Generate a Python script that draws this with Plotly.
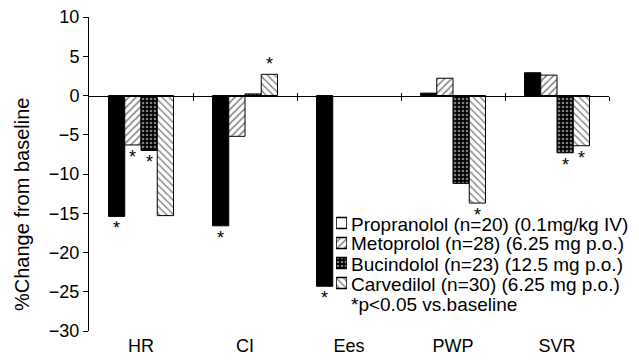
import plotly.graph_objects as go

categories = ["HR", "CI", "Ees", "PWP", "SVR"]
drugs = ["Propranolol (n=20) (0.1mg/kg IV)",
         "Metoprolol (n=28) (6.25 mg p.o.)",
         "Bucindolol (n=23) (12.5 mg p.o.)",
         "Carvedilol (n=30) (6.25 mg p.o.)"]
note = "*p<0.05 vs.baseline"
propranolol = [-15.4, -16.6, -24.3, 0.3, 2.9]
metoprolol = [-6.3, -5.2, None, 2.2, 2.6]
bucindolol = [-7.0, 0.2, None, -11.2, -7.3]
carvedilol = [-15.3, 2.7, None, -13.7, -6.4]
sig_propranolol = [True, True, True, False, False]
sig_metoprolol = [True, False, False, False, False]
sig_bucindolol = [True, False, False, False, True]
sig_carvedilol = [False, True, False, True, True]
y_ticks = [10, 5, 0, -5, -10, -15, -20, -25, -30]
tick_text = ["10", "5", "0", "\u22125", "\u221210", "\u221215", "\u221220", "\u221225", "\u221230"]

series = [propranolol, metoprolol, bucindolol, carvedilol]
sigs = [sig_propranolol, sig_metoprolol, sig_bucindolol, sig_carvedilol]

FONT = "Liberation Sans, Arial, sans-serif"
W, H = 639, 360
ML, MR, MT, MB = 89, 30, 17, 29
PW, PH = W - ML - MR, H - MT - MB
bargap = 0.375
bar_w = (1 - bargap) / 4


def px_x(px):
    return (px - ML) / PW


def px_y(py):
    return (H - MB - py) / PH


patterns = [
    None,
    dict(shape="/", fgcolor="black", bgcolor="white", size=5, solidity=0.3),
    dict(shape=".", fgcolor="white", bgcolor="black", size=4, solidity=0.35),
    dict(shape="\\", fgcolor="black", bgcolor="white", size=5, solidity=0.28),
]
colors = ["black", "white", "black", "white"]

xs = list(range(len(categories)))
fig = go.Figure()
for i, (vals, pat) in enumerate(zip(series, patterns)):
    marker = dict(color=colors[i], line=dict(color="black", width=1))
    if pat:
        marker["pattern"] = pat
    fig.add_trace(go.Bar(x=xs, y=vals, name=drugs[i], showlegend=False, marker=marker))

# custom legend: symbol squares drawn as bars on a small hidden axis
row0, row_step, sym = 224, 20, 11
sym_x0 = 336
text_x = 349
for i in range(4):
    c = row0 + row_step * i
    sc = c - 1
    marker = dict(color="white" if i == 0 else colors[i],
                  line=dict(color="black", width=1.5))
    if patterns[i]:
        marker["pattern"] = patterns[i]
    fig.add_trace(go.Bar(
        x=[0], y=[sym], base=[sc - sym / 2], width=[1], offsetgroup="leg",
        xaxis="x3", yaxis="y3", showlegend=False, hoverinfo="skip",
        marker=marker,
    ))
    fig.add_annotation(x=px_x(text_x), y=px_y(c), xref="paper", yref="paper",
                       text=drugs[i], showarrow=False, xanchor="left",
                       yanchor="middle",
                       font=dict(size=19, color="black", family=FONT))
fig.add_annotation(x=px_x(text_x), y=px_y(row0 + row_step * 4), xref="paper", yref="paper",
                   text=note, showarrow=False, xanchor="left", yanchor="middle",
                   font=dict(size=19, color="black", family=FONT))

# significance asterisks
for i, (vals, sg) in enumerate(zip(series, sigs)):
    off = (-1.5 + i) * bar_w
    for j, v in enumerate(vals):
        if v is not None and sg[j]:
            fig.add_annotation(
                x=xs[j] + off, y=v, text="*", showarrow=False,
                xref="x", yref="y",
                yanchor="top" if v < 0 else "bottom",
                yshift=0 if v < 0 else -2,
                font=dict(size=18, color="black", family=FONT))

fig.add_annotation(x=px_x(22), y=px_y(205), xref="paper", yref="paper",
                   text="%Change from baseline", showarrow=False, textangle=-90,
                   xanchor="center", yanchor="middle",
                   font=dict(size=20, color="black", family=FONT))

fig.update_layout(
    width=W, height=H,
    margin=dict(l=ML, r=MR, t=MT, b=MB, autoexpand=False),
    paper_bgcolor="white", plot_bgcolor="white",
    barmode="group", bargap=bargap, bargroupgap=0,
    font=dict(family=FONT, color="black", size=16),
    showlegend=False,
    xaxis=dict(range=[-0.5, 4.5], tickvals=xs, ticktext=categories,
               showgrid=False, zeroline=False, showline=False, ticks="",
               tickfont=dict(size=18), ticklabelstandoff=2, automargin=False),
    xaxis2=dict(overlaying="x", matches="x", anchor="free", position=px_y(96),
                tickvals=[0.5, 1.5, 2.5, 3.5, 4.5], showticklabels=False,
                ticks="outside", ticklen=4, tickcolor="black",
                showline=True, linecolor="black", linewidth=1,
                showgrid=False, zeroline=False, automargin=False),
    xaxis4=dict(overlaying="x", matches="x", anchor="free", position=px_y(96),
                tickvals=[0.5, 1.5, 2.5, 3.5, 4.5], showticklabels=False,
                ticks="inside", ticklen=3, tickcolor="black",
                showline=False, showgrid=False, zeroline=False, automargin=False),
    yaxis=dict(range=[-30, 10], tickvals=y_ticks, ticktext=tick_text,
               showgrid=False, zeroline=False, showline=True,
               linecolor="black", linewidth=1, ticks="outside", ticklen=5,
               tickcolor="black", tickfont=dict(size=18), automargin=False),
    xaxis3=dict(visible=False, range=[-0.5, 0.5], fixedrange=True,
                domain=[px_x(sym_x0), px_x(sym_x0 + sym)]),
    yaxis3=dict(visible=False, anchor="x3", range=[300, 200], fixedrange=True,
                domain=[px_y(300), px_y(200)]),
)
fig.add_trace(go.Scatter(x=[None], y=[None], xaxis="x2", yaxis="y",
                         showlegend=False, hoverinfo="skip"))
fig.add_trace(go.Scatter(x=[None], y=[None], xaxis="x4", yaxis="y",
                         showlegend=False, hoverinfo="skip"))

fig.write_html("out.html")
